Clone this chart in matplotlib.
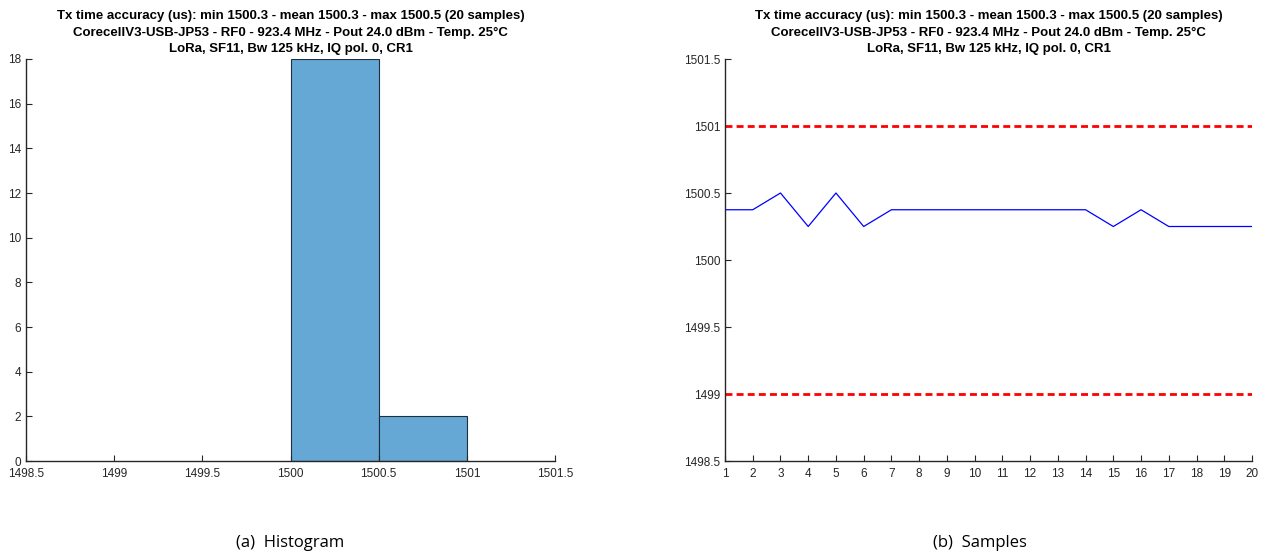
import matplotlib
matplotlib.use("Agg")
import matplotlib.pyplot as plt
import numpy as np

# Tx timing measurements (us), one per sample
sample_idx = list(range(1, 21))
tx_time_us = [1500.375, 1500.375, 1500.5, 1500.25, 1500.5, 1500.25,
              1500.375, 1500.375, 1500.375, 1500.375, 1500.375, 1500.375,
              1500.375, 1500.375, 1500.25, 1500.375, 1500.25, 1500.25,
              1500.25, 1500.25]

# Histogram bins and counts
bin_edges = [1500.0, 1500.5, 1501.0]
bin_counts = [18, 2]

# Tolerance limits
limit_low = 1499.0
limit_high = 1501.0

hist_xticks = [1498.5, 1499, 1499.5, 1500, 1500.5, 1501, 1501.5]
hist_xticklabels = ["1498.5", "1499", "1499.5", "1500", "1500.5", "1501", "1501.5"]
hist_yticks = [0, 2, 4, 6, 8, 10, 12, 14, 16, 18]
samp_yticks = [1498.5, 1499, 1499.5, 1500, 1500.5, 1501, 1501.5]
samp_yticklabels = ["1498.5", "1499", "1499.5", "1500", "1500.5", "1501", "1501.5"]

title_text = ("Tx time accuracy (us): min 1500.3 - mean 1500.3 - max 1500.5 (20 samples)\n"
              "CorecellV3-USB-JP53 - RF0 - 923.4 MHz - Pout 24.0 dBm - Temp. 25\u00b0C\n"
              "LoRa, SF11, Bw 125 kHz, IQ pol. 0, CR1")

plt.rcParams['font.family'] = ['Liberation Sans', 'DejaVu Sans']

W, H = 1268, 558
fig = plt.figure(figsize=(W / 100, H / 100), dpi=100)

def px_axes(x0, x1, y0, y1):
    return fig.add_axes([x0 / W, 1 - y1 / H, (x1 - x0) / W, (y1 - y0) / H])

def style(ax):
    for s in ("top", "right"):
        ax.spines[s].set_visible(False)
    for s in ("left", "bottom"):
        ax.spines[s].set_color("#262626")
        ax.spines[s].set_linewidth(1.0)
    ax.tick_params(direction="in", length=4, width=0.8, colors="#262626",
                   labelsize=8.5, labelcolor="#262626")
    ax.tick_params(axis="x", pad=5)
    ax.set_title(title_text, fontsize=9.5, fontweight="bold", linespacing=1.5, pad=5)

# (a) Histogram
ax1 = px_axes(26, 555, 59, 461)
ax1.bar(bin_edges[:-1], bin_counts, width=np.diff(bin_edges), align="edge",
        color="#65a8d6", edgecolor="#1f2f3f", linewidth=0.8)
ax1.set_xlim(1498.5, 1501.5)
ax1.set_ylim(0, 18)
ax1.set_xticks(hist_xticks)
ax1.set_xticklabels(hist_xticklabels)
ax1.set_yticks(hist_yticks)
style(ax1)

# (b) Samples
ax2 = px_axes(725, 1252, 59, 461)
ax2.plot(sample_idx, tx_time_us, color="#0000ff", linewidth=0.9)
ax2.axhline(limit_high, color="#ff0000", linewidth=2, linestyle=(0, (2.5, 1.5)))
ax2.axhline(limit_low, color="#ff0000", linewidth=2, linestyle=(0, (2.5, 1.5)))
ax2.set_xlim(1, 20)
ax2.set_ylim(1498.5, 1501.5)
ax2.set_xticks(sample_idx)
ax2.set_yticks(samp_yticks)
ax2.set_yticklabels(samp_yticklabels)
style(ax2)

fig.text(290 / W, 1 - 543 / H, "(a)  Histogram", ha="center", va="center",
         fontsize=12, family=["Open Sans", "DejaVu Sans"])
fig.text(980 / W, 1 - 543 / H, "(b)  Samples", ha="center", va="center",
         fontsize=12, family=["Open Sans", "DejaVu Sans"])

fig.savefig("out.png", dpi=100)
